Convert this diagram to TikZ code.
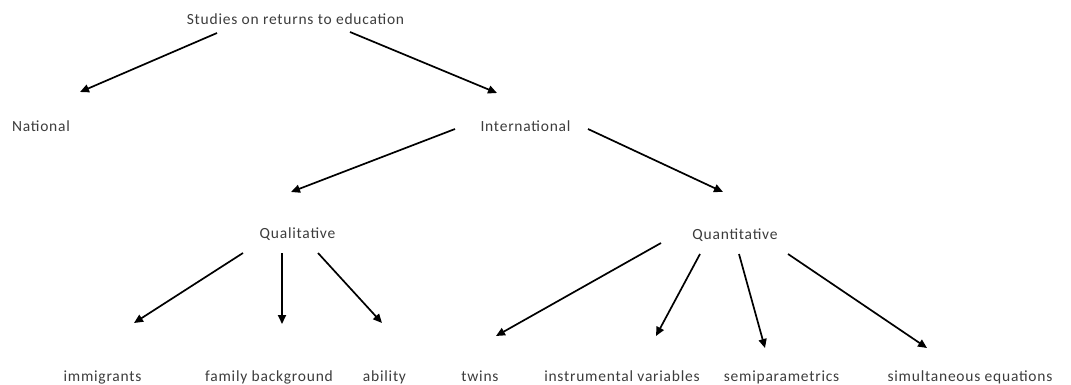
\documentclass[tikz,border=0pt]{standalone}
\usepackage{fontspec}
\setmainfont{Carlito}[LetterSpace=5]
\usetikzlibrary{arrows.meta}
\definecolor{txtgray}{HTML}{3C3C3C}
\tikzset{
  lbl/.style={text=txtgray, font=\fontsize{15.5}{18}\selectfont, inner sep=0pt, anchor=base},
  arr/.style={draw=black, line width=1.7pt, -{Triangle[length=9pt,width=8pt]}}
}
\begin{document}
\begin{tikzpicture}[x=1pt,y=-1pt]
\useasboundingbox (0,0) rectangle (1071,385);
% labels
\node[lbl] (studies) at (295.5,25) {Studies on returns to education};
\node[lbl] (national) at (41,132) {National};
\node[lbl] (intl) at (525.5,132) {International};
\node[lbl] (qual) at (297.5,238) {Qualitative};
\node[lbl] (quant) at (735,239) {Quantitative};
\node[lbl] (immig) at (102.5,381) {immigrants};
\node[lbl] (family) at (269,381) {family background};
\node[lbl] (ability) at (384.5,381) {ability};
\node[lbl] (twins) at (480,381) {twins};
\node[lbl] (instr) at (622,381) {instrumental variables};
\node[lbl] (semi) at (781.5,381) {semiparametrics};
\node[lbl] (simul) at (970,381) {simultaneous equations};
% connector end points
\coordinate (s1) at (217,33);   \coordinate (e1) at (80,92);
\coordinate (s2) at (350,32);   \coordinate (e2) at (497,93);
\coordinate (s3) at (455,129);  \coordinate (e3) at (291,192);
\coordinate (s4) at (588,129);  \coordinate (e4) at (723,192);
\coordinate (s5) at (243,253);  \coordinate (e5) at (134,323);
\coordinate (s6) at (282,253);  \coordinate (e6) at (282,324);
\coordinate (s7) at (318,253);  \coordinate (e7) at (382,323);
\coordinate (s8) at (661,243);  \coordinate (e8) at (496,336);
\coordinate (s9) at (700,254);  \coordinate (e9) at (656,336);
\coordinate (s10) at (739,254); \coordinate (e10) at (765,348);
\coordinate (s11) at (788,254); \coordinate (e11) at (927,348);
\foreach \i in {1,...,11} {\draw[arr] (s\i) -- (e\i);}
\end{tikzpicture}
\end{document}
